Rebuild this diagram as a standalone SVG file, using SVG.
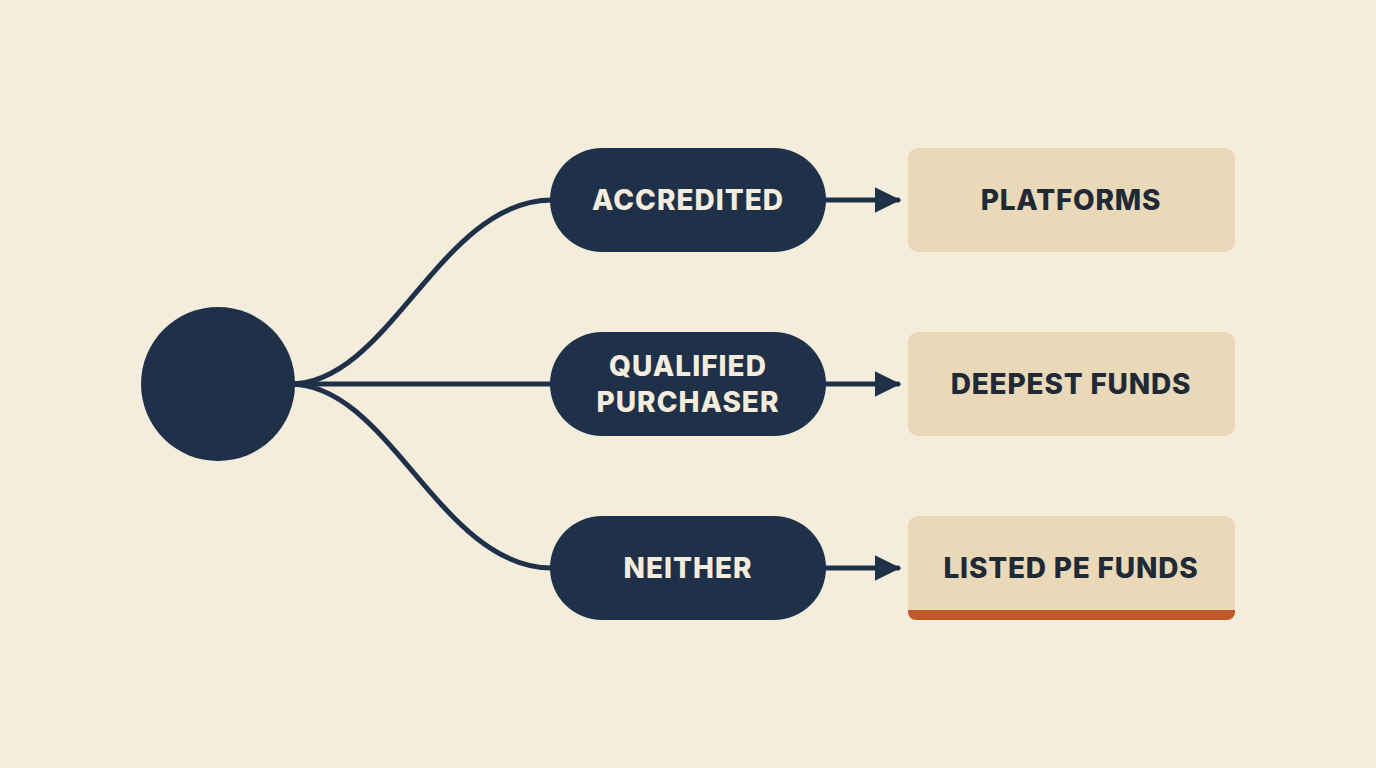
<svg xmlns="http://www.w3.org/2000/svg" width="1376" height="768" viewBox="0 0 1376 768">
<style>
.pill{fill:#1f3149}
.box{fill:#ead9b9}
.lt{font-family:"Inter","Liberation Sans",sans-serif;font-weight:800;font-size:28px;letter-spacing:1px;fill:#f4ecdc;text-anchor:middle}
.dt{font-family:"Inter","Liberation Sans",sans-serif;font-weight:800;font-size:28px;letter-spacing:0.8px;fill:#1f2a36;text-anchor:middle}
.ln{fill:none;stroke:#1f3149;stroke-width:5;stroke-linecap:round}
</style>
<defs>
<marker id="a2" viewBox="0 0 10 10" refX="9" refY="5" markerWidth="26" markerHeight="26" markerUnits="userSpaceOnUse" orient="auto"><path d="M0,0 L10,5 L0,10 z" fill="#1f3149"/></marker></defs>
<rect width="1376" height="768" fill="#f4eddc"/>
<g id="connectors">
<path class="ln" d="M290,384 C390,384 440,200 552,200"/>
<path class="ln" d="M290,384 L552,384"/>
<path class="ln" d="M290,384 C390,384 440,568 552,568"/>
<path class="ln" d="M826,200 L898,200" marker-end="url(#a2)"/>
<path class="ln" d="M826,384 L898,384" marker-end="url(#a2)"/>
<path class="ln" d="M826,568 L898,568" marker-end="url(#a2)"/>
</g>
<g id="root"><circle cx="218" cy="384" r="77" fill="#1f3149"/></g>
<g id="accredited"><rect class="pill" x="550" y="148" width="276" height="104" rx="52"/><text class="lt" x="688" y="210">ACCREDITED</text></g>
<g id="qualified"><rect class="pill" x="550" y="332" width="276" height="104" rx="52"/><text class="lt" x="688" y="376">QUALIFIED</text><text class="lt" x="688" y="412">PURCHASER</text></g>
<g id="neither"><rect class="pill" x="550" y="516" width="276" height="104" rx="52"/><text class="lt" x="688" y="578">NEITHER</text></g>
<g id="platforms"><rect class="box" x="908" y="148" width="327" height="104" rx="10"/><text class="dt" x="1071" y="210">PLATFORMS</text></g>
<g id="deepest"><rect class="box" x="908" y="332" width="327" height="104" rx="10"/><text class="dt" x="1071" y="394">DEEPEST FUNDS</text></g>
<g id="listed"><rect class="box" x="908" y="516" width="327" height="104" rx="10"/><path d="M908,610 H1235 V612 a8,8 0 0 1 -8,8 H916 a8,8 0 0 1 -8,-8 z" fill="#c0582a"/><text class="dt" x="1071" y="578">LISTED PE FUNDS</text></g>
</svg>
